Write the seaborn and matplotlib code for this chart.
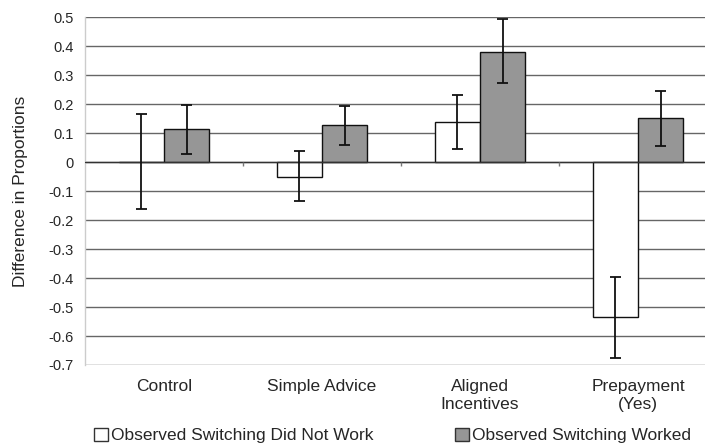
import matplotlib
matplotlib.use("Agg")
import matplotlib.pyplot as plt
import seaborn as sns
import pandas as pd
import numpy as np
from matplotlib.patches import Patch

categories = ["Control", "Simple Advice", "Aligned\nIncentives", "Prepayment\n(Yes)"]
series = ["Observed Switching Did Not Work", "Observed Switching Worked"]
not_work = [0.0, -0.05, 0.14, -0.534]
not_work_lo = [-0.162, -0.133, 0.046, -0.676]
not_work_hi = [0.166, 0.039, 0.233, -0.398]
worked = [0.115, 0.128, 0.381, 0.152]
worked_lo = [0.029, 0.06, 0.272, 0.056]
worked_hi = [0.198, 0.195, 0.493, 0.246]
yticks = [0.5, 0.4, 0.3, 0.2, 0.1, 0, -0.1, -0.2, -0.3, -0.4, -0.5, -0.6, -0.7]

df = pd.DataFrame({
    "category": categories * 2,
    "series": [series[0]] * 4 + [series[1]] * 4,
    "value": not_work + worked,
    "lo": not_work_lo + worked_lo,
    "hi": not_work_hi + worked_hi,
})

sns.set_style("white")
plt.rcParams["font.family"] = ["Liberation Sans", "DejaVu Sans"]

fig = plt.figure(figsize=(7.05, 4.45), dpi=100)
ax = fig.add_axes([85 / 705, 80 / 445, 620 / 705, (445 - 80 - 17.3) / 445])

fills = {series[0]: "#ffffff", series[1]: "#969696"}
sns.barplot(data=df, x="category", y="value", hue="series", order=categories,
            hue_order=series, palette=fills, edgecolor="#111111", linewidth=1.0,
            width=0.57, errorbar=None, legend=False, ax=ax, zorder=3)

# error bars at bar centers
for patch_group, (lo, hi) in zip([ax.patches[:4], ax.patches[4:8]],
                                 [(not_work_lo, not_work_hi), (worked_lo, worked_hi)]):
    xs = [p.get_x() + p.get_width() / 2 for p in patch_group]
    ax.vlines(xs, lo, hi, color="#111111", lw=1.3, zorder=5)
    ax.hlines(lo + hi, [x - 0.035 for x in xs] * 2, [x + 0.035 for x in xs] * 2,
              color="#111111", lw=1.3, zorder=5)

ax.set_xlim(-0.5, -0.5 + 620 / 158)
ax.set_ylim(-0.7, 0.5)
ax.set_yticks(yticks)
ax.set_yticklabels([f"{t:g}" for t in yticks])
ax.set_xticks(range(len(categories)))
ax.set_xticklabels(categories, linespacing=1.25)
for t in yticks:
    ax.axhline(t, color="#666666", lw=1.0, zorder=1)
ax.axhline(0, color="#333333", lw=1.0, zorder=4)
# category boundary ticks on zero line
ax.vlines([0.5, 1.5, 2.5], 0, -0.012, color="#777777", lw=1.0, zorder=4)

for s in ["top", "right", "bottom"]:
    ax.spines[s].set_visible(False)
ax.spines["left"].set_color("#cccccc")
ax.spines["left"].set_linewidth(1.0)
ax.tick_params(axis="y", length=4, color="#666666", labelsize=10.5, pad=4)
ax.tick_params(axis="x", length=0, labelsize=12.5, pad=10)
ax.set_xlabel("")
ax.set_ylabel("Difference in Proportions", fontsize=12.5, labelpad=6)
ax.yaxis.set_label_coords(-57 / 620, 0.5)

handles = [Patch(facecolor=fills[s], edgecolor="#333333", label=s) for s in series]
fig.legend(handles=handles, loc="lower left", bbox_to_anchor=(85 / 705, -0.016), ncol=2,
           frameon=False, fontsize=12.5, handlelength=0.8, handleheight=0.8,
           handletextpad=0.2, columnspacing=4.7, borderaxespad=0.1)

fig.savefig("out.png", dpi=100)
